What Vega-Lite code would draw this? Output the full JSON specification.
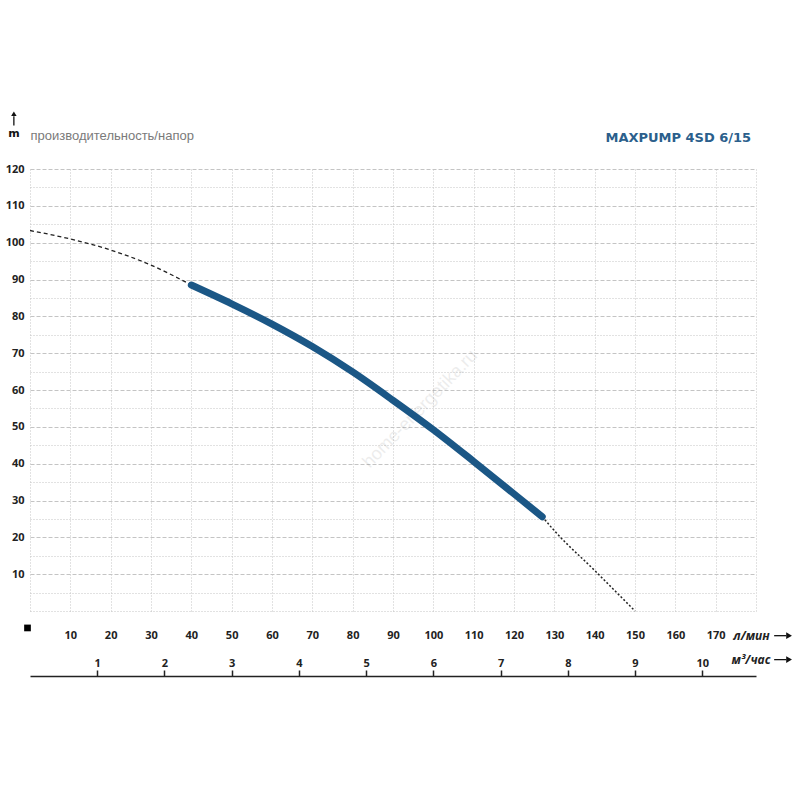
{
  "$schema": "https://vega.github.io/schema/vega-lite/v6.json",
  "width": 726,
  "height": 442,
  "autosize": "none",
  "padding": {"left": 30, "top": 169, "right": 44, "bottom": 189},
  "background": "white",
  "config": {"view": {"stroke": null}, "font": "Open Sans"},
  "datasets": {
    "curve": [
      {"q": 0, "h": 103.3, "seg": "upper"},
      {"q": 10, "h": 101.0, "seg": "upper"},
      {"q": 20, "h": 98.0, "seg": "upper"},
      {"q": 30, "h": 93.9, "seg": "upper"},
      {"q": 40, "h": 88.5, "seg": "upper"},
      {"q": 40, "h": 88.5, "seg": "main"},
      {"q": 50, "h": 83.4, "seg": "main"},
      {"q": 60, "h": 77.9, "seg": "main"},
      {"q": 70, "h": 71.8, "seg": "main"},
      {"q": 80, "h": 64.9, "seg": "main"},
      {"q": 90, "h": 57.2, "seg": "main"},
      {"q": 100, "h": 49.2, "seg": "main"},
      {"q": 110, "h": 40.6, "seg": "main"},
      {"q": 120, "h": 31.8, "seg": "main"},
      {"q": 127, "h": 25.6, "seg": "main"},
      {"q": 127, "h": 25.6, "seg": "lower"},
      {"q": 130, "h": 21.8, "seg": "lower"},
      {"q": 140, "h": 11.0, "seg": "lower"},
      {"q": 150, "h": 0, "seg": "lower"}
    ],
    "notes": [
      {"q": -4, "h": 129.5, "label": "m", "role": "unit"},
      {"q": 178.8, "h": 127.3, "label": "MAXPUMP 4SD 6/15", "role": "model"},
      {"q": 96.8, "h": 54.8, "label": "home-energetika.ru", "role": "watermark"}
    ],
    "shafts": [
      {"q": -4, "q2": -4, "h": 131.8, "h2": 134.3},
      {"q": 184.5, "q2": 187.5, "h": -6.7, "h2": -6.7},
      {"q": 184.5, "q2": 187.5, "h": -13.2, "h2": -13.2}
    ],
    "heads": [
      {"q": -4, "h": 135.0, "dir": "up"},
      {"q": 188.2, "h": -6.7, "dir": "right"},
      {"q": 188.2, "h": -13.2, "dir": "right"}
    ],
    "marker": [
      {"q": -0.62, "h": -4.6}
    ],
    "flow_m3": [
      {"m3h": 0},
      {"m3h": 10.8}
    ]
  },
  "layer": [
    {
      "encoding": {
        "x": {
          "field": "q",
          "type": "quantitative",
          "scale": {"domain": [0, 180], "nice": false, "zero": false},
          "axis": {
            "orient": "bottom",
            "values": [0, 10, 20, 30, 40, 50, 60, 70, 80, 90, 100, 110, 120, 130, 140, 150, 160, 170, 180],
            "labelExpr": "datum.value > 0 && datum.value < 180 ? datum.label : ''",
            "ticks": false,
            "domain": false,
            "labelPadding": 18,
            "labelFont": "Open Sans",
            "labelFontWeight": "bold",
            "labelFontSize": 11,
            "labelColor": "#222222",
            "grid": true,
            "gridColor": "#c4c4c4",
            "gridDash": [1, 2],
            "title": "л/мин",
            "titleX": 721,
            "titleY": 24.5,
            "titleAlign": "center",
            "titleBaseline": "middle",
            "titleFont": "Open Sans",
            "titleFontSize": 12,
            "titleFontStyle": "italic",
            "titleFontWeight": "bold",
            "titleColor": "#222222"
          }
        },
        "y": {
          "field": "h",
          "type": "quantitative",
          "scale": {"domain": [0, 120], "nice": false},
          "axis": {
            "values": [0, 5, 10, 15, 20, 25, 30, 35, 40, 45, 50, 55, 60, 65, 70, 75, 80, 85, 90, 95, 100, 105, 110, 115, 120],
            "labelExpr": "datum.value % 10 === 0 && datum.value > 0 ? datum.label : ''",
            "ticks": false,
            "domain": false,
            "labelPadding": 6,
            "labelFont": "Open Sans",
            "labelFontWeight": "bold",
            "labelFontSize": 11,
            "labelColor": "#222222",
            "grid": true,
            "gridColor": "#c4c4c4",
            "gridDash": {
              "condition": {"test": "datum.value % 10 === 0 && datum.value > 0", "value": [4, 2]},
              "value": [1, 2]
            },
            "title": "производительность/напор",
            "titleAngle": 0,
            "titleX": 0,
            "titleY": -34,
            "titleAlign": "left",
            "titleBaseline": "middle",
            "titleFont": "Liberation Sans",
            "titleFontSize": 13,
            "titleFontWeight": "normal",
            "titleColor": "#7a7a7a"
          }
        }
      },
      "layer": [
        {
          "data": {"name": "notes"},
          "transform": [{"filter": "datum.role == 'watermark'"}],
          "mark": {"type": "text", "angle": -46, "font": "Liberation Sans", "fontSize": 18, "color": "#000000", "opacity": 0.07},
          "encoding": {"text": {"field": "label"}}
        },
        {
          "data": {"name": "curve"},
          "transform": [{"filter": "datum.seg == 'upper'"}],
          "mark": {"type": "line", "interpolate": "monotone", "color": "#222222", "strokeWidth": 1.3, "strokeDash": [4, 3]}
        },
        {
          "data": {"name": "curve"},
          "transform": [{"filter": "datum.seg == 'lower'"}],
          "mark": {"type": "line", "interpolate": "monotone", "color": "#222222", "strokeWidth": 1.5, "strokeDash": [2, 2]}
        },
        {
          "data": {"name": "curve"},
          "transform": [{"filter": "datum.seg == 'main'"}],
          "mark": {"type": "line", "interpolate": "monotone", "color": "#1b5786", "strokeWidth": 7, "strokeCap": "round"}
        },
        {
          "data": {"name": "notes"},
          "transform": [{"filter": "datum.role == 'unit'"}],
          "mark": {"type": "text", "font": "DejaVu Sans", "fontSize": 11, "fontWeight": "bold", "color": "#111111", "align": "center", "baseline": "middle"},
          "encoding": {"text": {"field": "label"}}
        },
        {
          "data": {"name": "notes"},
          "transform": [{"filter": "datum.role == 'model'"}],
          "mark": {"type": "text", "font": "DejaVu Sans", "fontSize": 13, "fontWeight": "bold", "color": "#2b5f8c", "align": "right", "baseline": "alphabetic"},
          "encoding": {"text": {"field": "label"}}
        },
        {
          "data": {"name": "shafts"},
          "mark": {"type": "rule", "color": "#111111", "strokeWidth": 1.3},
          "encoding": {"x2": {"field": "q2"}, "y2": {"field": "h2"}}
        },
        {
          "data": {"name": "heads"},
          "transform": [{"filter": "datum.dir == 'up'"}],
          "mark": {"type": "point", "shape": "triangle-up", "filled": true, "color": "#111111", "size": 30, "opacity": 1}
        },
        {
          "data": {"name": "heads"},
          "transform": [{"filter": "datum.dir == 'right'"}],
          "mark": {"type": "point", "shape": "triangle-right", "filled": true, "color": "#111111", "size": 45, "opacity": 1}
        },
        {
          "data": {"name": "marker"},
          "mark": {"type": "point", "shape": "square", "filled": true, "color": "#000000", "size": 45, "opacity": 1}
        }
      ]
    },
    {
      "data": {"name": "flow_m3"},
      "mark": {"type": "point", "opacity": 0},
      "encoding": {
        "x": {
          "field": "m3h",
          "type": "quantitative",
          "scale": {"domain": [0, 10.8], "nice": false, "zero": false},
          "axis": {
            "orient": "bottom",
            "offset": 65,
            "values": [1, 2, 3, 4, 5, 6, 7, 8, 9, 10],
            "grid": false,
            "domain": true,
            "domainColor": "#222222",
            "domainWidth": 1.5,
            "ticks": true,
            "tickSize": -6,
            "tickWidth": 1.5,
            "tickColor": "#222222",
            "labelPadding": -4,
            "labelBaseline": "alphabetic",
            "labelFont": "Open Sans",
            "labelFontWeight": "bold",
            "labelFontSize": 11,
            "labelColor": "#222222",
            "title": "м³/час",
            "titleX": 720.5,
            "titleY": -16.5,
            "titleAlign": "center",
            "titleBaseline": "middle",
            "titleFont": "Open Sans",
            "titleFontSize": 12,
            "titleFontStyle": "italic",
            "titleFontWeight": "bold",
            "titleColor": "#222222"
          }
        }
      }
    }
  ],
  "resolve": {"scale": {"x": "independent"}, "axis": {"x": "independent"}}
}
